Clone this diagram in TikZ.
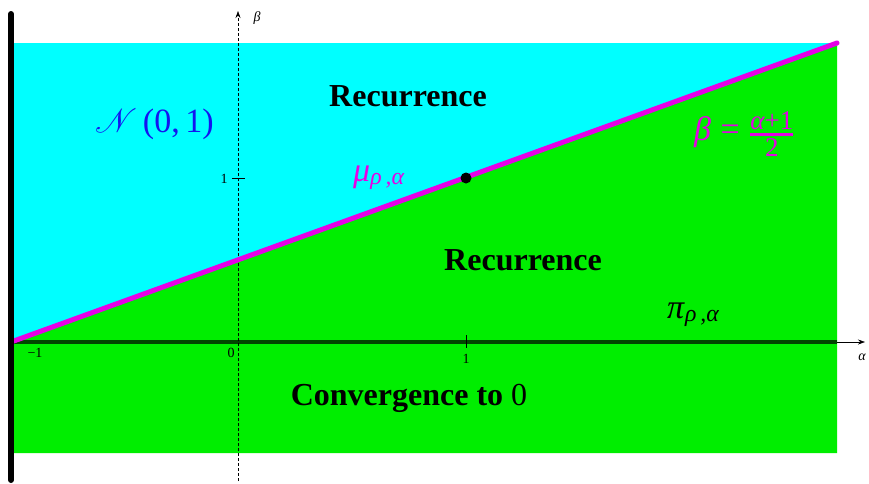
\documentclass[tikz,border=0pt]{standalone}
\usepackage{amsmath}
\usepackage{mathrsfs}
\usepackage{graphicx}
\usepackage{fontspec}
\setmainfont{Liberation Serif}
\usetikzlibrary{arrows.meta}
\definecolor{axgreen}{RGB}{0,70,0}
\definecolor{mag}{RGB}{230,0,230}
\definecolor{txtblue}{RGB}{20,20,240}
\definecolor{cyanbg}{RGB}{0,255,255}
\definecolor{greenbg}{RGB}{0,238,0}
\newcommand{\gk}[1]{\textit{#1}}
\begin{document}
\begin{tikzpicture}[x=1pt,y=-1pt,
  big/.style={font=\fontsize{32}{36}\selectfont\bfseries, anchor=base, inner sep=0},
  lab/.style={font=\fontsize{34}{38}\selectfont, anchor=base, inner sep=0},
  tick/.style={font=\fontsize{14}{16}\selectfont, anchor=base, inner sep=0},
  axis/.style={line width=0.6pt, -{Stealth[length=7pt,width=5pt]}}]
\useasboundingbox (0,0) rectangle (869,483);
% regions
\coordinate (L) at (11,342);
\coordinate (R) at (837,43);
\coordinate (TL) at (11,43);
\coordinate (BR) at (837,453);
\coordinate (BL) at (11,453);
\coordinate (MR) at (837,342);
\fill[cyanbg] (TL) rectangle (MR);
\fill[greenbg] (L) -- (R) -- (BR) -- (BL) -- cycle;
% axes
\coordinate (ax0) at (11,342);
\coordinate (ax1) at (865,342);
\draw[axis] (ax0) -- (ax1);
\draw[axgreen, line width=4pt] (ax0) -- (MR);
\coordinate (by0) at (238,481);
\coordinate (by1) at (238,11);
\draw[axis, dash pattern=on 3pt off 2pt] (by0) -- (by1);
\node[font=\fontsize{14}{16}\selectfont\itshape, anchor=base] (alab) at (862,360) {α};
\node[font=\fontsize{14}{16}\selectfont\itshape, anchor=base] (blab) at (257,21) {β};
% ticks
\coordinate (ta0) at (466,335);
\coordinate (ta1) at (466,348);
\draw[line width=0.8pt] (ta0) -- (ta1);
\coordinate (tb0) at (232,178);
\coordinate (tb1) at (245,178);
\draw[line width=0.8pt] (tb0) -- (tb1);
\node[tick] (t1a) at (466,363) {1};
\node[tick] (t0) at (231,357) {0};
\node[tick] (tm1) at (35,357) {−1};
\node[tick] (t1b) at (224,183) {1};
% magenta line
\draw[mag, line width=5pt, line cap=round] (L) -- (R);
% thick left bar
\coordinate (v0) at (11,14);
\coordinate (v1) at (11,480);
\draw[line width=6pt, line cap=round] (v0) -- (v1);
% point
\fill (466,178) circle (5.5pt);
% labels
\node[big] (rec1) at (408,106) {Recurrence};
\node[big] (rec2) at (523,270) {Recurrence};
\node[big] (conv) at (409,405) {Convergence to \mdseries 0};
\node[lab, txtblue, anchor=base west] (nn) at (95,132) {\scalebox{1.35}{$\mathscr{N}$}\,(0,\,1)};
\node[lab, mag, anchor=base west] (mu) at (353,181) {\gk{μ}\textsubscript{\gk{ρ\,,α}}};
\node[lab, anchor=base west] (pi) at (667,318) {\gk{π}\textsubscript{\gk{ρ\,,α}}};
\node[lab, mag, anchor=west] (eq) at (694,134) {\gk{β}\;=\;$\genfrac{}{}{3pt}{}{\text{\fontsize{27}{29}\selectfont\itshape α\upshape +1}}{\text{\fontsize{27}{29}\selectfont 2}}$};
\end{tikzpicture}
\end{document}
